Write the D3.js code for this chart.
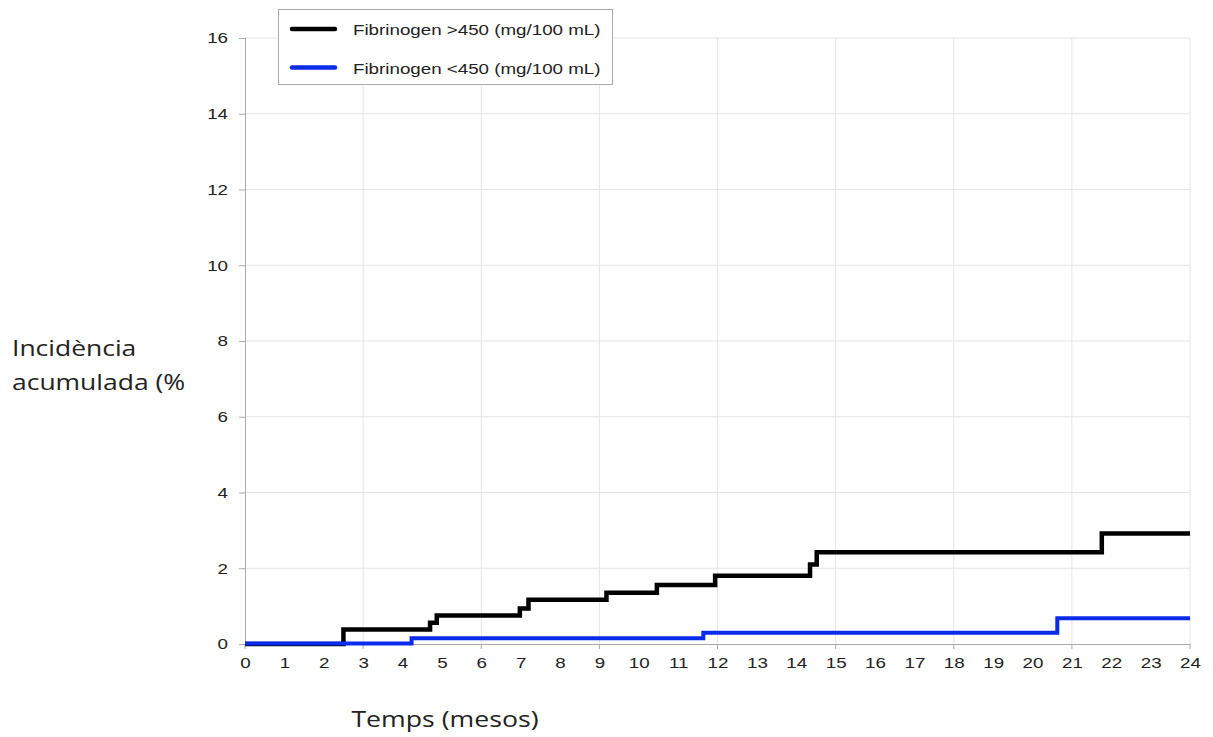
<!DOCTYPE html>
<html>
<head>
<meta charset="utf-8">
<script src="https://cdn.jsdelivr.net/npm/d3@7"></script>
<style>
  body { margin: 0; background: white; }
  svg { display: block; }
</style>
</head>
<body>
<div class="chart"></div>
<script>
// step points: [month, cumulative incidence %]
const highFib = [[0, 0], [2.5, 0.38], [4.7, 0.56], [4.87, 0.75], [6.98, 0.94], [7.2, 1.17],
  [9.18, 1.35], [10.46, 1.56], [11.94, 1.8], [14.35, 2.1], [14.52, 2.42], [21.76, 2.92], [24, 2.92]];
const lowFib = [[0, 0.01], [4.23, 0.15], [11.64, 0.3], [20.63, 0.68], [24, 0.68]];
const seriesNames = ['Fibrinogen >450 (mg/100 mL)', 'Fibrinogen <450 (mg/100 mL)'];
const seriesColors = ['#000000', '#0b2bea'];
const xTicks = d3.range(0, 25);
const yTicks = d3.range(0, 17, 2);

const w = 1213;
const h = 737;
const pLeft = 245, pRight = 1190, pTop = 38, pBottom = 644;
const stretch = 1.25; // source picture is widened horizontally

const svg = d3.select('.chart').append('svg').attr('width', w).attr('height', h)
  .style('font-family', 'Liberation Sans, Arial, sans-serif');

// widen text the way the source image is widened
function widen(sel, k) {
  sel.each(function () {
    const len = this.getComputedTextLength();
    d3.select(this).attr('textLength', len * k).attr('lengthAdjust', 'spacingAndGlyphs');
  });
}

const xScale = d3.scaleLinear().domain([0, 24]).range([pLeft, pRight]);
const yScale = d3.scaleLinear().domain([0, 16]).range([pBottom, pTop]);

// grid
svg.append('g').selectAll('line').data(yTicks.filter(d => d > 0)).enter().append('line')
  .attr('x1', pLeft).attr('x2', pRight).attr('y1', d => yScale(d)).attr('y2', d => yScale(d))
  .attr('stroke', '#e4e4e4').attr('stroke-width', 1);
svg.append('g').selectAll('line').data(d3.range(3, 25, 3)).enter().append('line')
  .attr('x1', d => xScale(d)).attr('x2', d => xScale(d)).attr('y1', pTop).attr('y2', pBottom)
  .attr('stroke', '#e4e4e4').attr('stroke-width', 1);

// y axis
const yAxis = svg.append('g').attr('transform', `translate(${pLeft}, 0)`)
  .call(d3.axisLeft(yScale).tickValues(yTicks).tickSize(6).tickPadding(11));
yAxis.select('.domain').attr('stroke', '#aaa');
yAxis.selectAll('.tick line').attr('stroke', '#aaa');
yAxis.selectAll('text').attr('font-size', 15).attr('fill', '#222').call(widen, stretch);

// x axis
const xAxis = svg.append('g').attr('transform', `translate(0, ${pBottom})`)
  .call(d3.axisBottom(xScale).tickValues(xTicks).tickSize(0).tickPadding(13));
xAxis.select('.domain').attr('stroke', '#aaa');
xAxis.selectAll('text').attr('font-size', 15).attr('fill', '#222').call(widen, stretch);
svg.append('g').selectAll('line').data(d3.range(0, 25, 3)).enter().append('line')
  .attr('x1', d => xScale(d)).attr('x2', d => xScale(d)).attr('y1', pBottom).attr('y2', pBottom + 5)
  .attr('stroke', '#aaa');

// step lines, blue drawn over black
const line = d3.line().x(d => xScale(d[0])).y(d => yScale(d[1])).curve(d3.curveStepAfter);
[highFib, lowFib].forEach((s, i) => {
  svg.append('path').datum(s).attr('d', line).attr('fill', 'none')
    .attr('stroke', seriesColors[i]).attr('stroke-width', i === 0 ? 4.5 : 4);
});

// legend
const lg = svg.append('g');
lg.append('rect').attr('x', 278.5).attr('y', 9.5).attr('width', 334).attr('height', 75)
  .attr('fill', 'white').attr('stroke', '#aaa');
seriesNames.forEach((n, i) => {
  const y = 29 + i * 38.5;
  lg.append('line').attr('x1', 292).attr('x2', 335).attr('y1', y).attr('y2', y)
    .attr('stroke', seriesColors[i]).attr('stroke-width', 4.5).attr('stroke-linecap', 'round');
  lg.append('text').attr('x', 353).attr('y', y + 6).attr('font-size', 15).attr('fill', '#222').text(n)
    .call(widen, stretch);
});

// axis titles
const title = svg.append('g').style('font-family', 'Open Sans, sans-serif').attr('font-size', 21).attr('fill', '#222');
title.append('text').attr('x', 12).attr('y', 356).text('Incidència').call(widen, 1.26);
title.append('text').attr('x', 12).attr('y', 390).text('acumulada (%').call(widen, 1.26);
title.append('text').attr('x', 445).attr('y', 727).attr('text-anchor', 'middle').text('Temps (mesos)').call(widen, 1.27);
</script>
</body>
</html>
